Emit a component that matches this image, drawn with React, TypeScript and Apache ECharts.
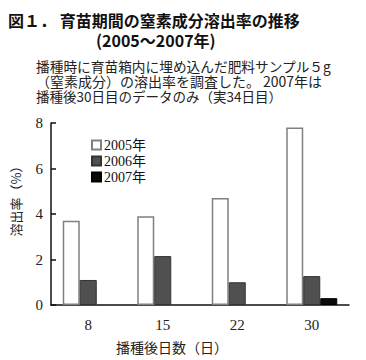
import React, { useEffect, useRef } from "react";
import * as echarts from "echarts";

const categories = ["8", "15", "22", "30"];
const series2005 = [3.7, 3.9, 4.7, 7.8];
const series2006 = [1.1, 2.15, 1.0, 1.27];
const series2007 = [null, null, null, 0.3];
const seriesNames = ["2005年", "2006年", "2007年"];
const yTicks = [0, 2, 4, 6, 8];
const titleLines = ["図１． 育苗期間の窒素成分溶出率の推移", "(2005～2007年)"];
const noteLines = [
  "播種時に育苗箱内に埋め込んだ肥料サンプル５g",
  "（窒素成分）の溶出率を調査した。",
  "2007年は",
  "播種後30日目のデータのみ（実34日目）",
];

const SERIF = "'Liberation Serif', 'Noto Sans CJK JP', serif";
const CJK = "'Noto Sans CJK JP', sans-serif";

export default function App() {
  const ref = useRef<HTMLDivElement>(null);
  useEffect(() => {
    if (!ref.current) return;
    const chart = echarts.init(ref.current, null, { renderer: "svg" });
    const barBase = { type: "bar", barWidth: 17, barGap: "0%", barCategoryGap: "30%" };
    chart.setOption({
      animation: false,
      backgroundColor: "#ffffff",
      textStyle: { fontFamily: SERIF },
      grid: { left: 51, right: 17, top: 123, bottom: 55 },
      legend: {
        orient: "vertical",
        left: 86,
        top: 132,
        itemWidth: 9,
        itemHeight: 9,
        itemGap: 0,
        icon: "rect",
        textStyle: { fontSize: 14, lineHeight: 16, color: "#111", fontFamily: SERIF, padding: [0, 0, 0, -2] },
        data: seriesNames,
      },
      xAxis: {
        type: "category",
        data: categories,
        axisLine: { lineStyle: { color: "#111", width: 1.5 } },
        axisTick: { inside: true, length: 5, lineStyle: { color: "#111", width: 1.5 } },
        axisLabel: { color: "#222", fontSize: 15, fontFamily: SERIF, margin: 12 },
      },
      yAxis: {
        type: "value",
        min: 0,
        max: 8,
        interval: 2,
        splitLine: { show: false },
        axisLine: { show: true, lineStyle: { color: "#111", width: 1.5 } },
        axisTick: { show: true, inside: true, length: 5, lineStyle: { color: "#111", width: 1.5 } },
        axisLabel: {
          color: "#222",
          fontSize: 15,
          fontFamily: SERIF,
          margin: 8,
          formatter: (v: number) => (yTicks.includes(v) ? String(v) : ""),
        },
      },
      series: [
        {
          ...barBase,
          name: seriesNames[0],
          data: series2005,
          itemStyle: { color: "#ffffff", borderColor: "#808080", borderWidth: 1.5 },
        },
        {
          ...barBase,
          name: seriesNames[1],
          data: series2006,
          itemStyle: { color: "#505050", borderColor: "#333333", borderWidth: 1 },
        },
        {
          ...barBase,
          name: seriesNames[2],
          data: series2007,
          itemStyle: { color: "#0a0a0a", borderColor: "#000", borderWidth: 1 },
        },
      ],
      graphic: [
        {
          type: "text",
          left: 8,
          top: 12,
          style: { text: titleLines[0], font: `bold 16px ${CJK}`, fill: "#111" },
        },
        {
          type: "text",
          left: 96,
          top: 32,
          style: { text: titleLines[1], font: `bold 16px ${CJK}`, fill: "#111" },
        },
        {
          type: "text",
          left: 36,
          top: 59,
          style: { text: noteLines[0], font: `13.7px ${CJK}`, fill: "#222" },
        },
        {
          type: "text",
          left: 36,
          top: 74,
          style: { text: noteLines[1], font: `14px ${CJK}`, fill: "#222" },
        },
        {
          type: "text",
          left: 263,
          top: 74,
          style: { text: noteLines[2], font: `14px ${CJK}`, fill: "#222" },
        },
        {
          type: "text",
          left: 36,
          top: 89,
          style: { text: noteLines[3], font: `13.5px ${CJK}`, fill: "#222" },
        },
        {
          type: "text",
          x: 15,
          y: 198,
          rotation: Math.PI / 2,
          style: {
            text: "溶出率（%）",
            font: `13px ${CJK}`,
            fill: "#222",
            align: "center",
            verticalAlign: "middle",
          },
        },
        {
          type: "text",
          x: 172,
          y: 347,
          style: {
            text: "播種後日数（日）",
            font: `14px ${CJK}`,
            fill: "#222",
            align: "center",
            verticalAlign: "middle",
          },
        },
      ],
    });
    return () => chart.dispose();
  }, []);
  return <div ref={ref} style={{ width: 366, height: 360, position: "absolute", left: 0, top: 0 }} />;
}
